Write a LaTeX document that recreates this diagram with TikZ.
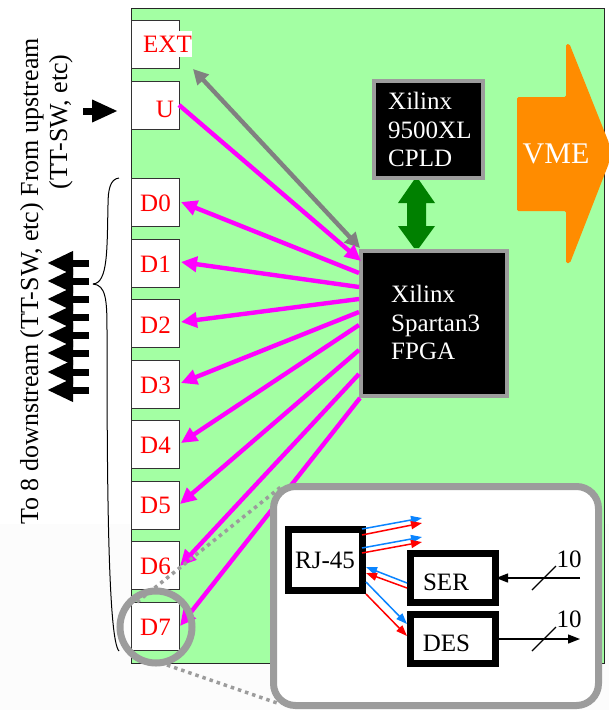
\documentclass[tikz,border=0pt]{standalone}
\usepackage{fontspec}
\setmainfont{Liberation Serif}
\usetikzlibrary{arrows.meta,calc}
\definecolor{boardgreen}{HTML}{A3FFA3}
\definecolor{ringgray}{HTML}{9C9C9C}
\definecolor{magentaline}{HTML}{FF00FF}
\definecolor{vmeorange}{HTML}{FF8C00}
\definecolor{wireblue}{HTML}{0A84FF}
\definecolor{darkgreen}{HTML}{008000}
\tikzset{
  port/.style={draw=black!80,line width=1pt,fill=white,minimum width=48pt,minimum height=48pt,inner sep=0pt,anchor=north west},
  portlabel/.style={text=red,font=\fontsize{25}{25}\selectfont,inner sep=0pt,anchor=base},
  chip/.style={draw=ringgray,line width=4pt,fill=black,inner sep=0pt,anchor=north west},
  chiptext/.style={text=white,font=\fontsize{25}{28.5}\selectfont,align=left,inner sep=0pt,anchor=north west},
  sig/.style={magentaline,line width=4.4pt,-{Triangle[length=16pt,width=15pt]}},
  thickbox/.style={draw=black,line width=7pt,fill=white,inner sep=0pt,anchor=north west},
  boxtext/.style={font=\fontsize{25}{25}\selectfont,inner sep=0pt,anchor=base},
  rlink/.style={red,line width=1.5pt,-{Triangle[length=11pt,width=8pt]}},
  blink/.style={wireblue,line width=1.5pt,-{Triangle[length=11pt,width=8pt]}},
  bus/.style={black,line width=1.3pt,-{Triangle[length=12pt,width=9pt]}},
  tick/.style={black,line width=1.2pt},
  dotline/.style={ringgray,line width=3.5pt,dash pattern=on 3.5pt off 4pt},
  feedarrow/.style={black,line width=7pt,-{Triangle[length=26pt,width=21pt]}},
  rotlabel/.style={rotate=90,font=\fontsize{26}{26}\selectfont,inner sep=0pt}
}
\begin{document}
\begin{tikzpicture}[x=1pt,y=-1pt]
\useasboundingbox (0,0) rectangle (609,710);
\fill[white] (0,0) rectangle (609,710);
\fill[black!1] (0,524) rectangle (609,710);
% board
\node[draw=black!85,line width=1pt,fill=boardgreen,minimum width=473pt,minimum height=655pt,inner sep=0pt,anchor=north west] (board) at (130.5,7.5) {};
% ports
\node[port] (ext) at (131,20) {};
\node[port] (u) at (131,80.5) {};
\node[port] (d0) at (131,178) {};
\node[port] (d1) at (131,238.5) {};
\node[port] (d2) at (131,299) {};
\node[port] (d3) at (131,359.5) {};
\node[port] (d4) at (131,420) {};
\node[port] (d5) at (131,481) {};
\node[port] (d6) at (131,541) {};
\node[port] (d7) at (131,602) {};
\node[portlabel,fill=white,inner xsep=0.5pt,inner ysep=5pt] (extl) at (167.5,52) {EXT};
\node[portlabel] (ul) at (165,117) {U};
\node[portlabel] (d0l) at (155.5,211) {D0};
\node[portlabel] (d1l) at (155.5,272) {D1};
\node[portlabel] (d2l) at (155.5,333) {D2};
\node[portlabel] (d3l) at (155.5,393) {D3};
\node[portlabel] (d4l) at (155.5,453) {D4};
\node[portlabel] (d5l) at (155.5,513) {D5};
\node[portlabel] (d6l) at (155.5,574) {D6};
\node[portlabel] (d7l) at (155.5,635) {D7};
% chips
\node[chip,minimum width=109pt,minimum height=97pt] (cpld) at (372,79) {};
\node[chiptext] (cpldt) at (388,92) {Xilinx\\9500XL\\CPLD};
\node[chip,minimum width=146pt,minimum height=145pt] (fpga) at (359,249) {};
\node[chiptext] (fpgat) at (391,285) {Xilinx\\Spartan3\\FPGA};
% chip link
\fill[darkgreen] (414,180) -- (419,180) -- (435,203) -- (426,203) -- (426,226) -- (435,226) -- (419,248) -- (414,248) -- (398,226) -- (407,226) -- (407,203) -- (398,203) -- cycle;
% VME
\fill[vmeorange,rounded corners=1.5pt] (517,97) -- (566,97) -- (566,44) -- (569.5,44) -- (609,143) -- (609,163) -- (570,263) -- (566,263) -- (566,211) -- (517,211) -- cycle;
\node[text=white,font=\fontsize{30}{30}\selectfont,inner sep=0pt,anchor=base] (vme) at (556,163) {VME};
% connector ends
\coordinate (extTip) at (193,69);
\coordinate (fpgaTipG) at (360,248);
\coordinate (uStart) at (179,105);
\coordinate (fpgaTipU) at (361,261);
\coordinate (f0) at (359,273);
\coordinate (f1) at (359,287);
\coordinate (f2) at (359,299);
\coordinate (f3) at (359,312);
\coordinate (f4) at (359,325);
\coordinate (f5) at (359,350);
\coordinate (f6) at (359,374);
\coordinate (f7) at (360,398);
\coordinate (t0) at (181,202);
\coordinate (t1) at (181,262);
\coordinate (t2) at (181,322);
\coordinate (t3) at (181,383);
\coordinate (t4) at (181,443);
\coordinate (t5) at (180,504);
\coordinate (t6) at (180,566);
\coordinate (t7) at (180,626);
% signals
\draw[gray,line width=4.4pt,{Triangle[length=15pt,width=15pt]}-{Triangle[length=15pt,width=15pt]}] (extTip) -- (fpgaTipG);
\draw[sig] (uStart) -- (fpgaTipU);
\draw[sig] (f0) -- (t0);
\draw[sig] (f1) -- (t1);
\draw[sig] (f2) -- (t2);
\draw[sig] (f3) -- (t3);
\draw[sig] (f4) -- (t4);
\draw[sig] (f5) -- (t5);
\draw[sig] (f6) -- (t6);
\draw[sig] (f7) -- (t7);
% brace
\draw[black,line width=1pt] (119,178) .. controls (110,179) and (108,190) .. (108,205) .. controls (107,250) and (108,283) .. (93,284);
\draw[black,line width=1pt] (93,284) .. controls (106,285) and (107,300) .. (107,330) .. controls (107,480) and (108,640) .. (119,651);
% downstream arrows
\foreach \yy in {263,281,299,317,335,353,372,390}{
  \draw[black,line width=7pt,-{Triangle[length=26pt,width=22pt]}] (89,\yy) -- (47,\yy);
}
\coordinate (feedA) at (83,111);
\coordinate (feedB) at (118,111);
\draw[feedarrow] (feedA) -- (feedB);
% rotated text
\node[rotlabel,anchor=base west] (downup) at (38,525) {To 8 downstream (TT-SW, etc) From upstream};
\node[rotlabel,anchor=base] (tt) at (67,122) {(TT-SW, etc)};
% zoom
\coordinate (zA) at (137,602);
\coordinate (zB) at (282,486);
\coordinate (zC) at (167,665);
\coordinate (zD) at (280,704);
\draw[dotline] (zA) -- (zB);
\draw[dotline] (zC) -- (zD);
\node[draw=ringgray,line width=7pt,circle,minimum size=72pt,inner sep=0pt] (ring) at (156,627) {};
\node[draw=ringgray,line width=7pt,fill=white,rounded corners=22pt,minimum width=325pt,minimum height=219pt,inner sep=0pt,anchor=north west] (inset) at (270,483) {};
% inset
\node[thickbox,minimum width=74pt,minimum height=61pt] (rj) at (285,526) {};
\node[boxtext] (rjl) at (325,568) {RJ-45};
\node[thickbox,minimum width=85pt,minimum height=49pt] (ser) at (407,550) {};
\node[boxtext] (serl) at (446,590) {SER};
\node[thickbox,minimum width=85pt,minimum height=49pt] (des) at (407,611) {};
\node[boxtext] (desl) at (446.5,651) {DES};
\coordinate (r1) at (362,529); \coordinate (o1) at (422,518);
\coordinate (r2) at (362,535); \coordinate (o2) at (422,523);
\coordinate (r3) at (362,548); \coordinate (o3) at (422,537);
\coordinate (r4) at (362,553); \coordinate (o4) at (422,542);
\draw[blink] (r1) -- (o1);
\draw[rlink] (r2) -- (o2);
\draw[blink] (r3) -- (o3);
\draw[rlink] (r4) -- (o4);
\coordinate (s1) at (407,583); \coordinate (j1) at (366,567);
\coordinate (s2) at (407,588); \coordinate (j2) at (366,573);
\coordinate (j3) at (366,582); \coordinate (e1) at (407,624);
\coordinate (j4) at (366,594); \coordinate (e2) at (407,636);
\draw[blink] (s1) -- (j1);
\draw[rlink] (s2) -- (j2);
\draw[blink] (j3) -- (e1);
\draw[rlink] (j4) -- (e2);
\coordinate (sin) at (580,578);
\coordinate (dout) at (580,639);
\draw[bus,shorten >=-3pt] (sin) -- (ser.east);
\draw[bus] (des.east) -- (dout);
\coordinate (ta) at (532,590); \coordinate (tb) at (556,566);
\coordinate (tc) at (532,651); \coordinate (td) at (556,627);
\draw[tick] (ta) -- (tb);
\draw[tick] (tc) -- (td);
\node[boxtext] (n10a) at (569,567) {10};
\node[boxtext] (n10b) at (569,627) {10};
\end{tikzpicture}
\end{document}
